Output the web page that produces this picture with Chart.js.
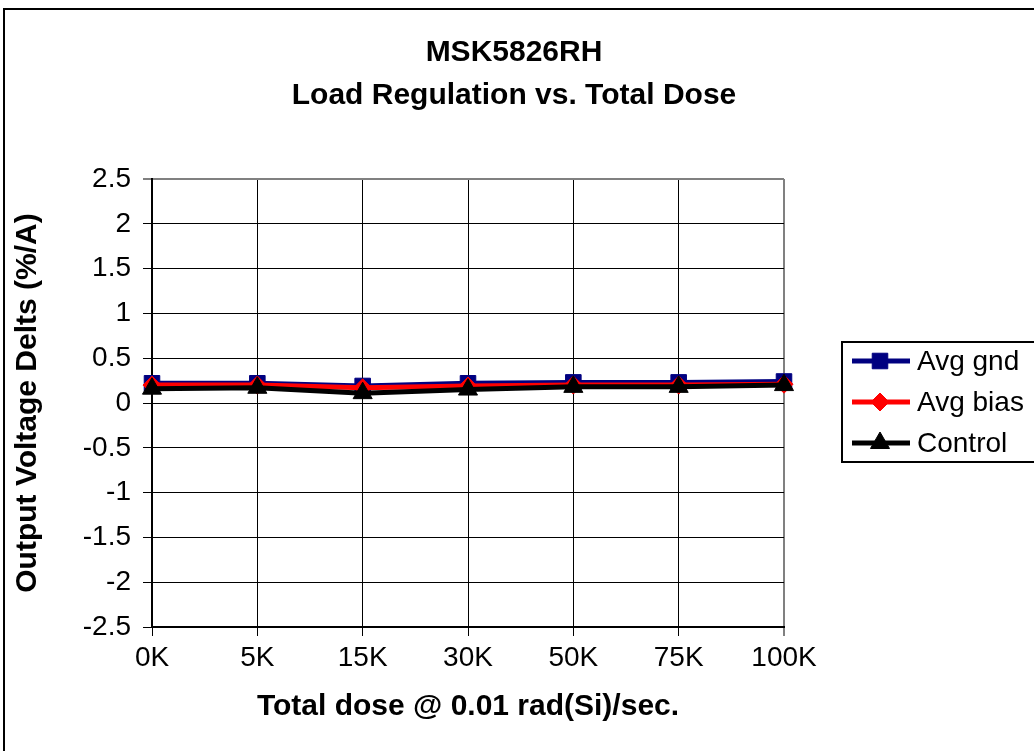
<!DOCTYPE html>
<html>
<head>
 <title>MSK5826RH Load Regulation vs. Total Dose</title>
 <script src="https://cdn.jsdelivr.net/npm/chart.js"></script>
 <style>
  html, body { margin: 0; padding: 0; background: #fff; }
  #chart-container { width: 1034px; height: 751px; position: relative; }
 </style>
</head>
<body>
 <div id="chart-container">
  <canvas id="doseChart"></canvas>
 </div>

 <script>
  // data
  const doses = ['0K', '5K', '15K', '30K', '50K', '75K', '100K'];
  const avgGnd = [0.22, 0.22, 0.19, 0.22, 0.23, 0.23, 0.24];
  const avgBias = [0.20, 0.20, 0.17, 0.19, 0.20, 0.20, 0.21];
  const control = [0.16, 0.17, 0.11, 0.15, 0.18, 0.18, 0.20];
  const titleLines = ['MSK5826RH', 'Load Regulation vs. Total Dose'];

  const FONT = 'Arial, "Liberation Sans", sans-serif';

  const series = [
   { label: 'Avg gnd', data: avgGnd, color: '#000080', style: 'rect', radius: 11, order: 2 },
   { label: 'Avg bias', data: avgBias, color: '#ff0000', style: 'rectRot', radius: 9, order: 1 },
   { label: 'Control', data: control, color: '#000000', style: 'triangle', radius: 11, order: 0 }
  ];

  // frame, title and legend box drawn on the canvas
  const decorations = {
   id: 'decorations',
   afterDraw(chart) {
    const ctx = chart.ctx;
    ctx.save();
    ctx.strokeStyle = '#000';
    ctx.lineWidth = 2;
    ctx.strokeRect(4, 9, 1040, 760);

    ctx.fillStyle = '#000';
    ctx.font = 'bold 30px ' + FONT;
    ctx.textAlign = 'center';
    ctx.textBaseline = 'middle';
    ctx.fillText(titleLines[0], 514, 53);
    ctx.fillText(titleLines[1], 514, 96);

    // legend
    ctx.lineWidth = 2;
    ctx.strokeRect(842, 342, 200, 120);
    const rows = [361, 402, 443];
    series.forEach((s, i) => {
     const y = rows[i];
     ctx.strokeStyle = s.color;
     ctx.lineWidth = 5;
     ctx.beginPath();
     ctx.moveTo(852, y);
     ctx.lineTo(910, y);
     ctx.stroke();
     ctx.fillStyle = s.color;
     ctx.strokeStyle = s.color;
     ctx.lineWidth = 1;
     Chart.helpers.drawPoint(ctx, { pointStyle: s.style, radius: s.radius, borderWidth: 1 }, 880, y);
     ctx.fillStyle = '#000';
     ctx.font = '28px ' + FONT;
     ctx.textAlign = 'left';
     ctx.fillText(s.label, 917, y + 1);
    });
    ctx.restore();
   }
  };

  const ctx = document.getElementById('doseChart').getContext('2d');
  const chart = new Chart(ctx, {
   type: 'line',
   data: {
    labels: doses,
    datasets: series.map(s => ({
     label: s.label,
     data: s.data,
     borderColor: s.color,
     backgroundColor: s.color,
     borderWidth: 5,
     pointStyle: s.style,
     pointRadius: s.radius,
     pointBorderWidth: 1,
     tension: 0,
     fill: false,
     order: s.order
    }))
   },
   options: {
    responsive: true,
    maintainAspectRatio: false,
    animation: false,
    layout: { padding: { top: 179, left: 0, right: 250, bottom: 20 } },
    plugins: {
     legend: { display: false },
     title: { display: false },
     tooltip: { enabled: false }
    },
    scales: {
     x: {
      offset: false,
      grid: {
       color: c => c.index === doses.length - 1 ? '#808080' : '#000',
       lineWidth: c => c.index === doses.length - 1 ? 2 : 1,
       tickLength: 9
      },
      border: { color: '#000', width: 2 },
      ticks: { color: '#000', font: { family: FONT, size: 28 }, padding: 5, maxRotation: 0 },
      title: {
       display: true,
       text: 'Total dose @ 0.01 rad(Si)/sec.',
       color: '#000',
       font: { family: FONT, size: 30, weight: 'bold' },
       padding: { bottom: 6 }
      },
      afterFit: s => { s.height = 104; }
     },
     y: {
      min: -2.5,
      max: 2.5,
      grid: {
       color: c => c.tick && c.tick.value === 2.5 ? '#808080' : '#000',
       lineWidth: c => c.tick && c.tick.value === 2.5 ? 2 : 1,
       tickLength: 9
      },
      border: { color: '#000', width: 2 },
      ticks: {
       stepSize: 0.5,
       color: '#000',
       font: { family: FONT, size: 28 },
       padding: 12,
       callback: v => String(v)
      },
      title: {
       display: true,
       text: 'Output Voltage Delts (%/A)',
       color: '#000',
       font: { family: FONT, size: 30, weight: 'bold' },
       padding: { top: 10 }
      },
      afterFit: s => { s.width = 152; }
     }
    }
   },
   plugins: [decorations]
  });
 </script>
</body>
</html>
